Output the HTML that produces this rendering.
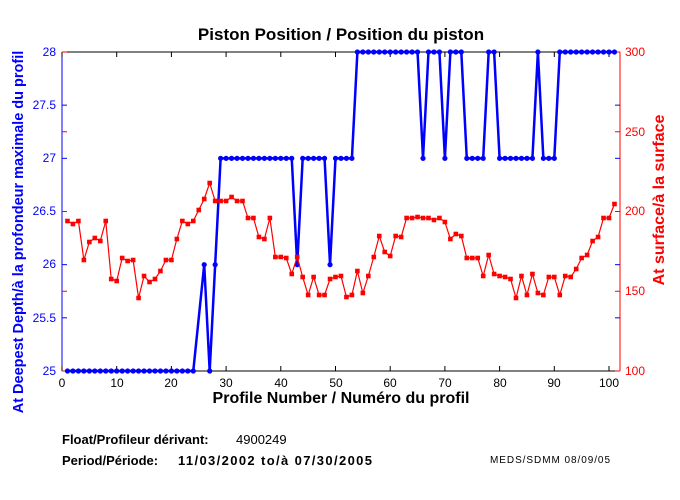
<!DOCTYPE html>
<html><head><meta charset="utf-8"><style>
body{margin:0;background:#fff}
svg{display:block}
text{font-family:"Liberation Sans",Arial,sans-serif}
</style></head><body>
<svg id="s" width="680" height="500" viewBox="0 0 680 500" xmlns="http://www.w3.org/2000/svg">
<rect width="680" height="500" fill="#fff"/>
<text x="341" y="40" font-size="17" font-weight="bold" text-anchor="middle">Piston Position / Position du piston</text>
<line x1="62" y1="52" x2="620" y2="52" stroke="#000"/>
<line x1="62" y1="371" x2="620" y2="371" stroke="#000"/>
<line x1="62" y1="52" x2="62" y2="371" stroke="#00f"/>
<line x1="620" y1="52" x2="620" y2="371" stroke="#f00"/>
<g id="ticks"></g>
<g font-size="12" fill="#00f" text-anchor="end">
<text x="56" y="375">25</text><text x="56" y="322">25.5</text><text x="56" y="268">26</text><text x="56" y="215">26.5</text><text x="56" y="162">27</text><text x="56" y="109">27.5</text><text x="56" y="56">28</text>
</g>
<g font-size="12" fill="#f00">
<text x="625" y="375">100</text><text x="625" y="295">150</text><text x="625" y="215">200</text><text x="625" y="136">250</text><text x="625" y="56">300</text>
</g>
<g font-size="12" text-anchor="middle">
<text x="62" y="387">0</text><text x="117" y="387">10</text><text x="171" y="387">20</text><text x="226" y="387">30</text><text x="281" y="387">40</text><text x="336" y="387">50</text><text x="390" y="387">60</text><text x="445" y="387">70</text><text x="500" y="387">80</text><text x="554" y="387">90</text><text x="609" y="387">100</text>
</g>
<text x="341" y="403" font-size="16" font-weight="bold" text-anchor="middle">Profile Number / Numéro du profil</text>
<text transform="translate(23,232) rotate(-90)" font-size="14.5" font-weight="bold" fill="#00f" text-anchor="middle">At Deepest Depth/à la profondeur maximale du profil</text>
<text transform="translate(664,200) rotate(-90)" font-size="16" font-weight="bold" fill="#f00" text-anchor="middle">At surface/à la surface</text>
<text x="62" y="444" font-size="13" font-weight="bold">Float/Profileur dérivant:</text>
<text x="236" y="444" font-size="13">4900249</text>
<text x="62" y="465" font-size="13" font-weight="bold">Period/Période:</text>
<text x="178" y="465" font-size="13" font-weight="bold" textLength="194" lengthAdjust="spacing">11/03/2002  to/à  07/30/2005</text>
<text x="490" y="463" font-size="10" textLength="120" lengthAdjust="spacing">MEDS/SDMM  08/09/05</text>
<g id="data"></g>
</svg>
<script>
var NS="http://www.w3.org/2000/svg";
function X(i){return 62+i*5.47;}
function el(t,a,p){var e=document.createElementNS(NS,t);for(var k in a)e.setAttribute(k,a[k]);p.appendChild(e);return e;}
var tk=document.getElementById("ticks");
for(var i=0;i<=100;i+=10){el("line",{x1:X(i),y1:371,x2:X(i),y2:366,stroke:"#000"},tk);el("line",{x1:X(i),y1:52,x2:X(i),y2:57,stroke:"#000"},tk);}
for(var v=0;v<=6;v++){var y=371-v*53.17;el("line",{x1:62,y1:y,x2:67,y2:y,stroke:"#00f"},tk);el("line",{x1:620,y1:y,x2:615,y2:y,stroke:"#00f"},tk);}
for(var v=0;v<=4;v++){var y=371-v*79.75;el("line",{x1:620,y1:y,x2:615,y2:y,stroke:"#f00"},tk);el("line",{x1:62,y1:y,x2:67,y2:y,stroke:"#f00"},tk);}
var red=[221,224,221,260,242,238,241,221,279,281,258,261,260,298,276,282,279,271,260,260,239,221,224,221,210,199,183,201,201,201,197,201,201,218,218,237,239,218,257,257,258,274,257,277,295,277,295,295,279,277,276,297,295,271,293,276,257,236,252,256,236,237,218,218,217,218,218,220,218,222,239,234,236,258,258,258,276,255,274,276,277,279,298,276,295,274,293,295,277,277,295,276,277,269,258,255,241,237,218,218,204];
var b={};for(var i=1;i<=101;i++)b[i]=28;
for(var i=1;i<=24;i++)b[i]=25;delete b[25];b[26]=26;b[27]=25;b[28]=26;
for(var i=29;i<=53;i++)b[i]=27;b[43]=26;b[49]=26;
[66,70,74,75,76,77,80,81,82,83,84,85,86,88,89,90].forEach(function(i){b[i]=27;});
var d=document.getElementById("data");
var pts=[];for(var i=1;i<=101;i++)if(b[i]!==undefined)pts.push([X(i),371-(b[i]-25)*106.33]);
el("polyline",{points:pts.map(function(p){return p.join(",")}).join(" "),fill:"none",stroke:"#00f","stroke-width":2.5},d);
pts.forEach(function(p){el("circle",{cx:p[0],cy:p[1],r:2.6,fill:"#00f"},d);});
var rp=red.map(function(y,k){return [X(k+1),y];});
el("polyline",{points:rp.map(function(p){return p.join(",")}).join(" "),fill:"none",stroke:"#f00","stroke-width":1.2},d);
rp.forEach(function(p){el("rect",{x:p[0]-2.3,y:p[1]-2.3,width:4.6,height:4.6,fill:"#f00"},d);});
</script>
</body></html>
